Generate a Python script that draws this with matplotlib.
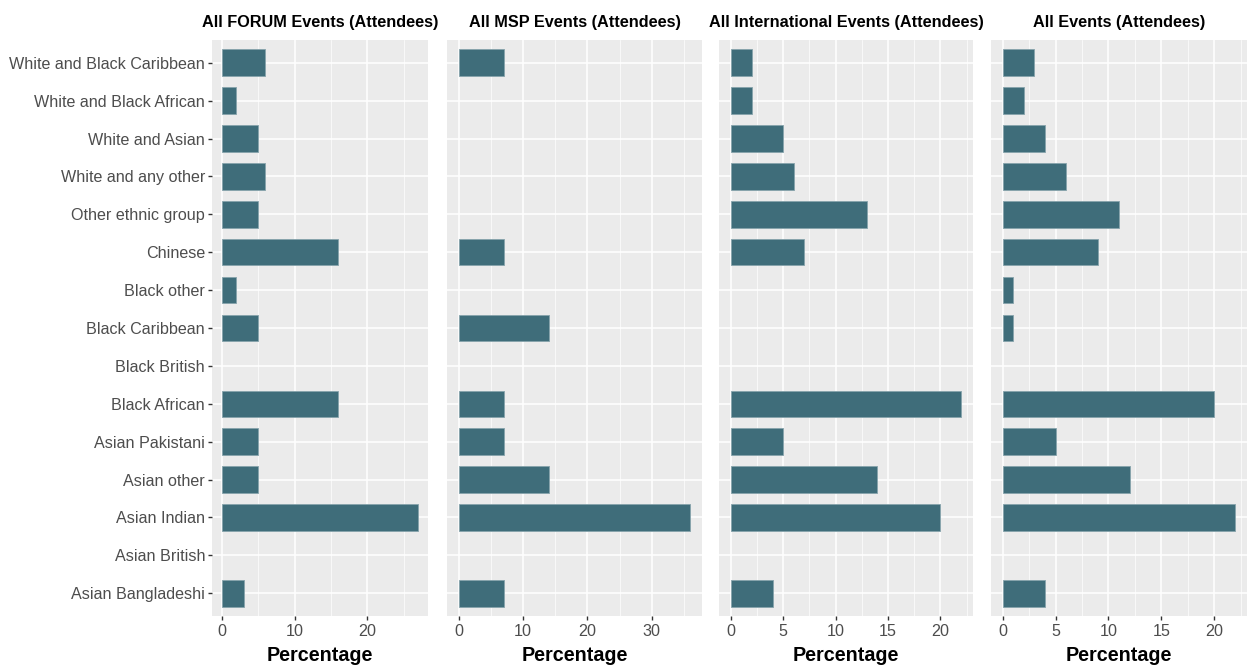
#!/usr/bin/env python3
"""Ethnicity of attendees by event type, four horizontal bar panels."""

import matplotlib

matplotlib.use("Agg")
import matplotlib.pyplot as plt
import numpy as np
from matplotlib import font_manager
from matplotlib.ticker import MultipleLocator

# bottom-to-top order, as on the chart
GROUPS = [
    "Asian Bangladeshi",
    "Asian British",
    "Asian Indian",
    "Asian other",
    "Asian Pakistani",
    "Black African",
    "Black British",
    "Black Caribbean",
    "Black other",
    "Chinese",
    "Other ethnic group",
    "White and any other",
    "White and Asian",
    "White and Black African",
    "White and Black Caribbean",
]

FORUM = [3, 0, 27, 5, 5, 16, 0, 5, 2, 16, 5, 6, 5, 2, 6]
MSP = [7, 0, 36, 14, 7, 7, 0, 14, 0, 7, 0, 0, 0, 0, 7]
INTERNATIONAL = [4, 0, 20, 14, 5, 22, 0, 0, 0, 7, 13, 6, 5, 2, 2]
ALL_EVENTS = [4, 0, 22, 12, 5, 20, 0, 1, 1, 9, 11, 6, 4, 2, 3]

TITLES = [
    "All FORUM Events (Attendees)",
    "All MSP Events (Attendees)",
    "All International Events (Attendees)",
    "All Events (Attendees)",
]
MAJOR_STEPS = [10, 10, 5, 5]

BAR = "#3F6D7A"
BAR_EDGE = "#86A3AB"
PANEL_BG = "#EBEBEB"
TICK_GRAY = "#4D4D4D"

W, H = 1250, 666
# panel boxes in pixels: left, right
PANEL_X = [(212, 428), (447, 702), (719, 973), (991, 1247)]
PANEL_TOP, PANEL_BOTTOM = 40, 616

names = {f.name for f in font_manager.fontManager.ttflist}
NARROW = "Liberation Sans Narrow" in names
FAMILY = ["Liberation Sans Narrow", "Liberation Sans"] if NARROW else ["Liberation Sans"]
SCALE = 1.0 if NARROW else 0.86


def main() -> None:
    plt.rcParams["font.family"] = FAMILY + ["DejaVu Sans"]
    fig = plt.figure(figsize=(W / 100, H / 100), dpi=100)

    series = [FORUM, MSP, INTERNATIONAL, ALL_EVENTS]
    for idx, (values, title, step) in enumerate(zip(series, TITLES, MAJOR_STEPS)):
        left, right = PANEL_X[idx]
        ax = fig.add_axes(
            [left / W, 1 - PANEL_BOTTOM / H, (right - left) / W, (PANEL_BOTTOM - PANEL_TOP) / H]
        )
        draw_panel(ax, values, title, step, show_y=idx == 0)

    fig.savefig("out.png", dpi=100)


def draw_panel(ax: plt.Axes, values: list, title: str, step: float, *, show_y: bool) -> None:
    y = np.arange(len(GROUPS))
    ax.set_facecolor(PANEL_BG)
    vals = np.asarray(values, dtype=float)
    keep = vals > 0
    ax.barh(y[keep], vals[keep], height=0.7, color=BAR, edgecolor=BAR_EDGE,
            linewidth=0.6, zorder=3)

    vmax = vals.max()
    ax.set_xlim(-0.05 * vmax, 1.05 * vmax)
    ax.set_ylim(-0.6, len(GROUPS) - 0.4)

    ax.xaxis.set_major_locator(MultipleLocator(step))
    ax.xaxis.set_minor_locator(MultipleLocator(step / 2))
    ax.grid(which="major", color="white", linewidth=1.1, zorder=0)
    ax.grid(which="minor", axis="x", color="white", linewidth=0.5, zorder=0)
    ax.set_axisbelow(True)

    ax.set_yticks(y)
    if show_y:
        ax.set_yticklabels(GROUPS, fontsize=13.5 * SCALE, color=TICK_GRAY)
        ax.tick_params(axis="y", length=3, width=1, color="#333333", pad=2)
    else:
        ax.tick_params(axis="y", length=0, labelleft=False)
    ax.tick_params(axis="x", which="major", length=3, width=1, color="#333333", pad=3,
                   labelsize=13.5 * SCALE, labelcolor=TICK_GRAY)
    ax.tick_params(axis="x", which="minor", length=0)

    for spine in ax.spines.values():
        spine.set_visible(False)

    ax.set_title(title, fontsize=13.6 * SCALE, fontweight="bold", pad=9)
    ax.set_xlabel("Percentage", fontsize=16.5 * SCALE, fontweight="bold", labelpad=5)


if __name__ == "__main__":
    main()
